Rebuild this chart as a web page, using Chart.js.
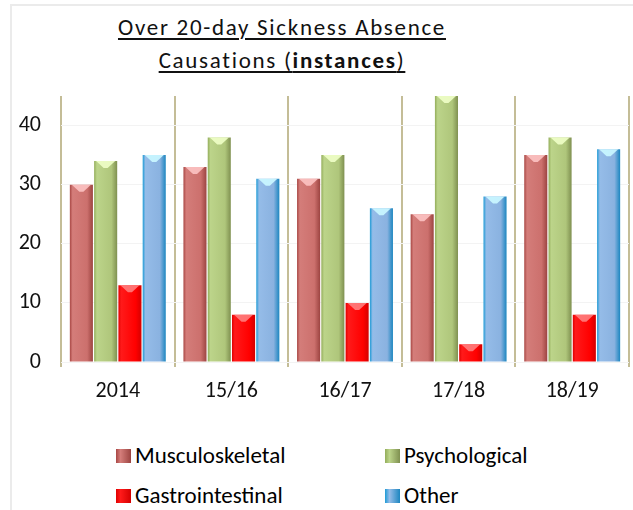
<!DOCTYPE html>
<html>
<head>
<meta charset="utf-8">
<script src="https://cdn.jsdelivr.net/npm/chart.js@4.4.1/dist/chart.umd.min.js"></script>
<style>
  html, body { margin: 0; padding: 0; background: #fff; }
  #wrap { position: relative; width: 633px; height: 510px; overflow: hidden; font-family: Carlito, Lato, sans-serif; }
  #frame { position: absolute; left: 10px; top: 4px; width: 640px; height: 520px;
           border-top: 2px solid #ebebeb; border-left: 2px solid #ebebeb; }
  #title { position: absolute; left: 0; top: 11px; width: 564px; text-align: center;
           font-size: 23px; line-height: 33px; letter-spacing: 1.7px; color: #111; text-decoration: underline;
           text-underline-offset: 3px; text-decoration-thickness: 1.5px; }
  #chart { position: absolute; left: 0; top: 0; }
  .leg { position: absolute; font-size: 23px; color: #000; line-height: 26px; white-space: nowrap; }
  .leg i { display: inline-block; width: 15px; height: 14px; margin-right: 4px; vertical-align: 0px; }
</style>
</head>
<body>
<div id="wrap">
  <div id="frame"></div>
  <div id="title">Over 20-day Sickness Absence<br>Causations (<b>instances</b>)</div>
  <canvas id="chart" width="633" height="420"></canvas>
</div>
<script>
/* ---------- data ---------- */
const years = ["2014", "15/16", "16/17", "17/18", "18/19"];

const musculoskeletal  = [30, 33, 31, 25, 35];
const psychological    = [34, 38, 35, 45, 38];
const gastrointestinal = [13, 8, 10, 3, 8];
const other            = [35, 31, 26, 28, 36];

const yTicks = [0, 10, 20, 30, 40];

/* ---------- look ---------- */
const series = [
  { label: "Musculoskeletal",  data: musculoskeletal,  flat: "#c96a68",
    stops: ["#a84744", "#d47d7a", "#cc706d", "#9c4441"], cap: "rgba(255,200,200,0.85)" },
  { label: "Psychological",    data: psychological,    flat: "#b3c97f",
    stops: ["#93ad5a", "#bcd48a", "#afc67b", "#7f9050"], cap: "rgba(240,255,200,0.9)" },
  { label: "Gastrointestinal", data: gastrointestinal, flat: "#ff0000",
    stops: ["#e00000", "#ff1a1a", "#ff0000", "#d40000"], cap: "rgba(255,140,140,0.8)" },
  { label: "Other",            data: other,            flat: "#8db4e2",
    stops: ["#1e9bd6", "#95bce8", "#8ab2e0", "#1c86c0"], cap: "rgba(200,245,255,0.95)" }
];

// horizontal gradient on each bar, plus a light bevel at the top
const barShade = {
  id: "barShade",
  beforeDatasetsDraw(chart) {
    const ctx = chart.ctx;
    chart.data.datasets.forEach((ds, di) => {
      const s = series[di];
      chart.getDatasetMeta(di).data.forEach(bar => {
        const x0 = bar.x - bar.width / 2, x1 = bar.x + bar.width / 2;
        const g = ctx.createLinearGradient(x0, 0, x1, 0);
        g.addColorStop(0, s.stops[0]);
        g.addColorStop(0.12, s.stops[1]);
        g.addColorStop(0.75, s.stops[2]);
        g.addColorStop(1, s.stops[3]);
        bar.options.backgroundColor = g;
      });
    });
  },
  afterDatasetsDraw(chart) {
    const ctx = chart.ctx;
    ctx.save();
    chart.data.datasets.forEach((ds, di) => {
      const s = series[di];
      chart.getDatasetMeta(di).data.forEach(bar => {
        const l = bar.x - bar.width / 2, r = bar.x + bar.width / 2, t = bar.y;
        ctx.fillStyle = s.cap;
        ctx.beginPath();
        ctx.moveTo(l + 2, t);
        ctx.lineTo(r - 2, t);
        ctx.lineTo(bar.x + 2, t + 7);
        ctx.lineTo(bar.x - 2, t + 7);
        ctx.closePath();
        ctx.fill();
      });
    });
    ctx.restore();
  }
};

/* ---------- legend (html, two columns) ---------- */
const legPos = [[116, 442], [385, 442], [116, 482], [385, 482]];
series.forEach((s, i) => {
  const d = document.createElement("div");
  d.className = "leg";
  d.style.left = legPos[i][0] + "px";
  d.style.top = legPos[i][1] + "px";
  d.innerHTML = `<i style="background:linear-gradient(90deg, ${s.stops[0]}, ${s.stops[1]} 30%, ${s.stops[3]})"></i>${s.label}`;
  document.getElementById("wrap").appendChild(d);
});

/* ---------- chart ---------- */
const tickFont = { family: "Carlito, Lato, sans-serif", size: 22 };

new Chart(document.getElementById("chart"), {
  type: "bar",
  data: {
    labels: years,
    datasets: series.map(s => ({
      label: s.label,
      data: s.data,
      backgroundColor: () => s.flat,
      borderWidth: 0,
      categoryPercentage: 0.855,
      barPercentage: 0.95
    }))
  },
  options: {
    responsive: false,
    animation: false,
    devicePixelRatio: 1,
    layout: { padding: { top: 96, right: 4, left: 0, bottom: 0 } },
    plugins: {
      legend: { display: false },
      title: { display: false },
      tooltip: { enabled: false }
    },
    scales: {
      x: {
        grid: { offset: true, color: "#c4bd97", lineWidth: 2, drawTicks: true, tickLength: 5 },
        border: { display: false },
        ticks: { color: "#111", font: tickFont, padding: 11 },
        afterFit: sc => { sc.height = 58; }
      },
      y: {
        min: 0,
        max: 45,
        grid: { color: "#f3f3f3", lineWidth: 1, drawTicks: false },
        border: { display: false },
        ticks: { color: "#111", font: tickFont, padding: 20, stepSize: 10 },
        afterBuildTicks: sc => { sc.ticks = yTicks.map(v => ({ value: v })); },
        afterFit: sc => { sc.width = 61; }
      }
    }
  },
  plugins: [barShade]
});
</script>
</body>
</html>
